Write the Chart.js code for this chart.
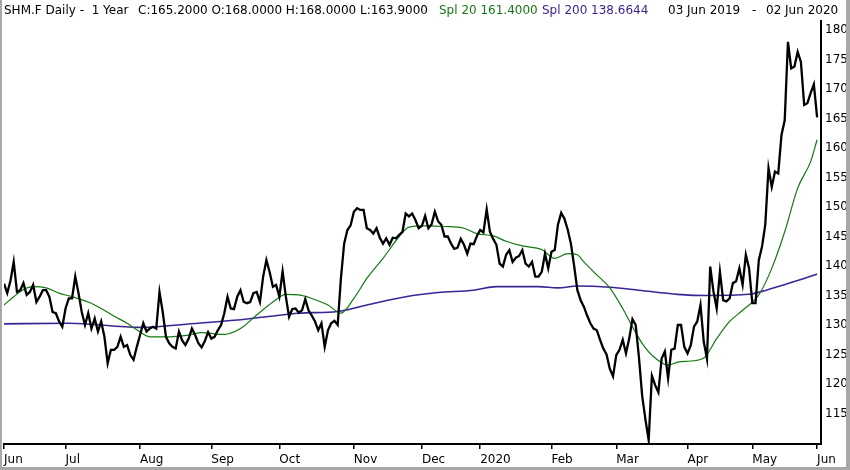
<!DOCTYPE html>
<html>
<head>
<meta charset="utf-8">
<script src="https://cdn.jsdelivr.net/npm/chart.js@4.4.1/dist/chart.umd.min.js"></script>
<style>
  html, body { margin: 0; padding: 0; background: #fff; }
  #wrap { position: relative; width: 850px; height: 470px; overflow: hidden; }
  #chart { position: absolute; left: 0; top: 0; }
  .hd { position: absolute; top: 3px; font: 12px "DejaVu Sans", sans-serif; line-height: 14px; white-space: pre; color: #000; }
</style>
</head>
<body>
<div id="wrap">
  <canvas id="chart" width="850" height="470"></canvas>
  <span class="hd" style="left:4px">SHM.F Daily -  1 Year</span>
  <span class="hd" style="left:138px">C:165.2000 O:168.0000 H:168.0000 L:163.9000</span>
  <span class="hd" style="left:439px;color:#187818">Spl 20 161.4000</span>
  <span class="hd" style="left:542px;color:#3a1f8a">Spl 200 138.6644</span>
  <span class="hd" style="left:668px">03 Jun 2019</span>
  <span class="hd" style="left:752px">-</span>
  <span class="hd" style="left:766px">02 Jun 2020</span>
</div>
<script>
// daily closes, one per trading day from 03 Jun 2019 to 02 Jun 2020
const closeValues = [
  137.0, 135.4, 137.5, 140.7, 135.6, 135.9, 137.1, 135.1, 135.6, 136.8,
  133.9, 134.8, 135.9, 135.9, 134.8, 132.2, 132.0, 130.6, 129.7, 132.8,
  134.5, 134.5, 138.2, 135.4, 132.2, 130.0, 132.0, 129.4, 131.1, 128.9,
  130.6, 128.0, 123.5, 125.8, 125.8, 126.3, 128.0, 126.3, 126.6, 124.9,
  124.1, 126.3, 128.3, 130.3, 128.9, 129.4, 129.7, 129.4, 135.6, 132.2,
  128.0, 126.9, 126.3, 126.0, 128.9, 127.4, 126.6, 127.7, 129.4, 128.3,
  126.9, 126.2, 127.3, 128.8, 127.7, 128.0, 129.1, 130.0, 132.0, 134.8,
  132.8, 132.7, 134.8, 135.9, 133.9, 133.7, 133.9, 135.4, 135.6, 133.9,
  138.2, 141.0, 139.0, 136.5, 136.8, 134.8, 139.1, 134.8, 131.4, 132.7,
  132.8, 132.1, 132.5, 134.4, 132.5, 131.6, 130.6, 129.1, 130.3, 126.3,
  129.1, 130.3, 130.7, 130.0, 137.9, 143.8, 146.1, 146.9, 149.2, 149.8,
  149.5, 149.5, 146.4, 146.1, 145.5, 146.4, 144.8, 143.8, 144.7, 143.6,
  144.8, 144.7, 145.3, 145.8, 148.9, 148.4, 148.9, 147.8, 146.4, 146.8,
  148.5, 146.4, 147.1, 149.2, 147.6, 147.0, 145.0, 145.0, 143.8, 142.9,
  143.1, 144.6, 143.6, 142.1, 143.8, 143.7, 145.1, 146.1, 145.7, 149.6,
  145.8, 144.6, 143.6, 140.4, 139.9, 141.9, 142.7, 140.7, 141.4, 141.7,
  142.7, 140.4, 139.9, 140.7, 138.2, 138.2, 139.0, 142.1, 139.6, 142.4,
  142.7, 147.0, 149.0, 148.0, 146.2, 143.8, 140.0, 135.9, 134.2, 133.1,
  131.6, 130.3, 129.4, 129.1, 127.5, 126.0, 125.0, 122.6, 121.3, 124.9,
  125.8, 127.5, 125.2, 127.7, 131.0, 130.0, 124.5, 118.0, 114.0, 110.5,
  121.4, 119.8, 118.6, 124.3, 125.5, 121.0, 125.8, 126.0, 130.0, 130.0,
  126.3, 125.2, 126.6, 129.7, 130.6, 133.4, 127.2, 124.3, 139.9, 135.7,
  132.8, 139.0, 134.2, 134.0, 134.5, 137.1, 137.4, 139.6, 136.8, 141.9,
  139.6, 133.7, 133.7, 141.0, 143.3, 147.0, 156.6, 153.4, 156.0, 155.7,
  162.2, 164.7, 178.0, 173.5, 173.8, 176.3, 174.6, 167.3, 167.6, 169.3,
  170.8, 165.2
];

// Spl 20 at these trading-day positions
const spl20Index = [0, 3, 6, 9, 13, 17, 21, 26, 30, 34, 38, 41, 45, 50, 57, 61, 68, 73, 78, 83,
  87, 91, 95, 100, 104, 108, 112, 117, 122, 125, 130, 136, 142, 146, 151, 155, 160, 166, 170, 174,
  177, 179, 183, 187, 191, 194, 197, 200, 205, 208, 212, 216, 220, 224, 228, 233, 237, 241, 245, 249, 251];
const spl20Values = [133.4, 134.8, 136.0, 136.5, 136.3, 135.4, 134.8, 133.9, 132.8, 131.5, 130.3, 129.2,
  128.0, 128.0, 128.3, 128.7, 128.4, 129.4, 131.7, 133.9, 135.2, 135.1, 134.5, 133.4, 132.0, 134.5,
  137.9, 141.3, 145.0, 146.6, 146.8, 146.7, 146.4, 145.5, 145.1, 144.2, 143.4, 142.8, 141.3, 142.1,
  141.9, 140.7, 138.5, 136.3, 132.8, 129.7, 126.9, 124.9, 123.2, 123.7, 123.9, 124.4, 127.7, 130.6,
  132.5, 135.1, 139.6, 145.8, 153.2, 157.7, 161.4];

// Spl 200
const spl200Index = [0, 20, 42, 60, 71, 81, 91, 103, 112, 124, 134, 145, 152, 165, 171, 177, 187,
  196, 208, 217, 230, 234, 240, 247, 251];
const spl200Values = [130.2, 130.3, 129.6, 130.3, 130.8, 131.4, 132.0, 132.3, 133.4, 134.8, 135.5,
  135.9, 136.5, 136.5, 136.3, 136.6, 136.4, 135.9, 135.2, 135.0, 135.2, 135.7, 136.7, 137.9, 138.66];

// first trading day of each month
const monthIndex = [0, 19, 42, 64, 85, 108, 129, 147, 169, 189, 211, 231, 251];
const monthLabels = ["Jun", "Jul", "Aug", "Sep", "Oct", "Nov", "Dec", "2020", "Feb", "Mar", "Apr", "May", "Jun"];

const priceTicks = [115, 120, 125, 130, 135, 140, 145, 150, 155, 160, 165, 170, 175, 180];

const FONT = { family: "DejaVu Sans", size: 12 };

const framePlugin = {
  id: "frame",
  afterDraw(chart) {
    const c = chart.ctx;
    c.save();
    c.fillStyle = "#a8a8a8";
    c.fillRect(0, 0, 2, 470);
    c.fillRect(0, 467, 850, 3);
    c.fillRect(846, 0, 4, 470);
    c.restore();
  }
};

const toPoints = (xs, ys) => xs.map((x, k) => ({ x, y: ys[k] }));

new Chart(document.getElementById("chart"), {
  type: "line",
  data: {
    datasets: [
      {
        label: "Close",
        data: closeValues.map((y, i) => ({ x: i, y })),
        borderColor: "#000",
        borderWidth: 2.3,
        pointRadius: 0,
        tension: 0
      },
      {
        label: "Spl 20",
        data: toPoints(spl20Index, spl20Values),
        borderColor: "#117a11",
        borderWidth: 1.2,
        pointRadius: 0,
        cubicInterpolationMode: "monotone"
      },
      {
        label: "Spl 200",
        data: toPoints(spl200Index, spl200Values),
        borderColor: "#3c2496",
        borderWidth: 1.6,
        pointRadius: 0,
        cubicInterpolationMode: "monotone"
      }
    ]
  },
  options: {
    responsive: false,
    animation: false,
    layout: { padding: { top: 21, left: 4, right: 0, bottom: 0 } },
    plugins: { legend: { display: false }, tooltip: { enabled: false } },
    scales: {
      x: {
        type: "linear",
        min: 0,
        max: 252.2,
        afterBuildTicks: s => { s.ticks = monthIndex.map(v => ({ value: v })); },
        afterFit: s => { s.height = 26; },
        grid: { drawOnChartArea: false, drawTicks: true, tickLength: 5, color: "#000", lineWidth: 1.5 },
        border: { display: true, color: "#000", width: 2 },
        ticks: {
          autoSkip: false,
          maxRotation: 0,
          align: "start",
          padding: 4,
          color: "#000",
          font: FONT,
          callback: v => monthLabels[monthIndex.indexOf(v)]
        }
      },
      y: {
        position: "right",
        min: 109.83,
        max: 181.53,
        afterBuildTicks: s => { s.ticks = priceTicks.map(v => ({ value: v })); },
        afterFit: s => { s.width = 29; },
        grid: { drawOnChartArea: false, drawTicks: false },
        border: { display: true, color: "#000", width: 2 },
        ticks: { padding: 4, color: "#000", font: FONT }
      }
    }
  },
  plugins: [framePlugin]
});
</script>
</body>
</html>
